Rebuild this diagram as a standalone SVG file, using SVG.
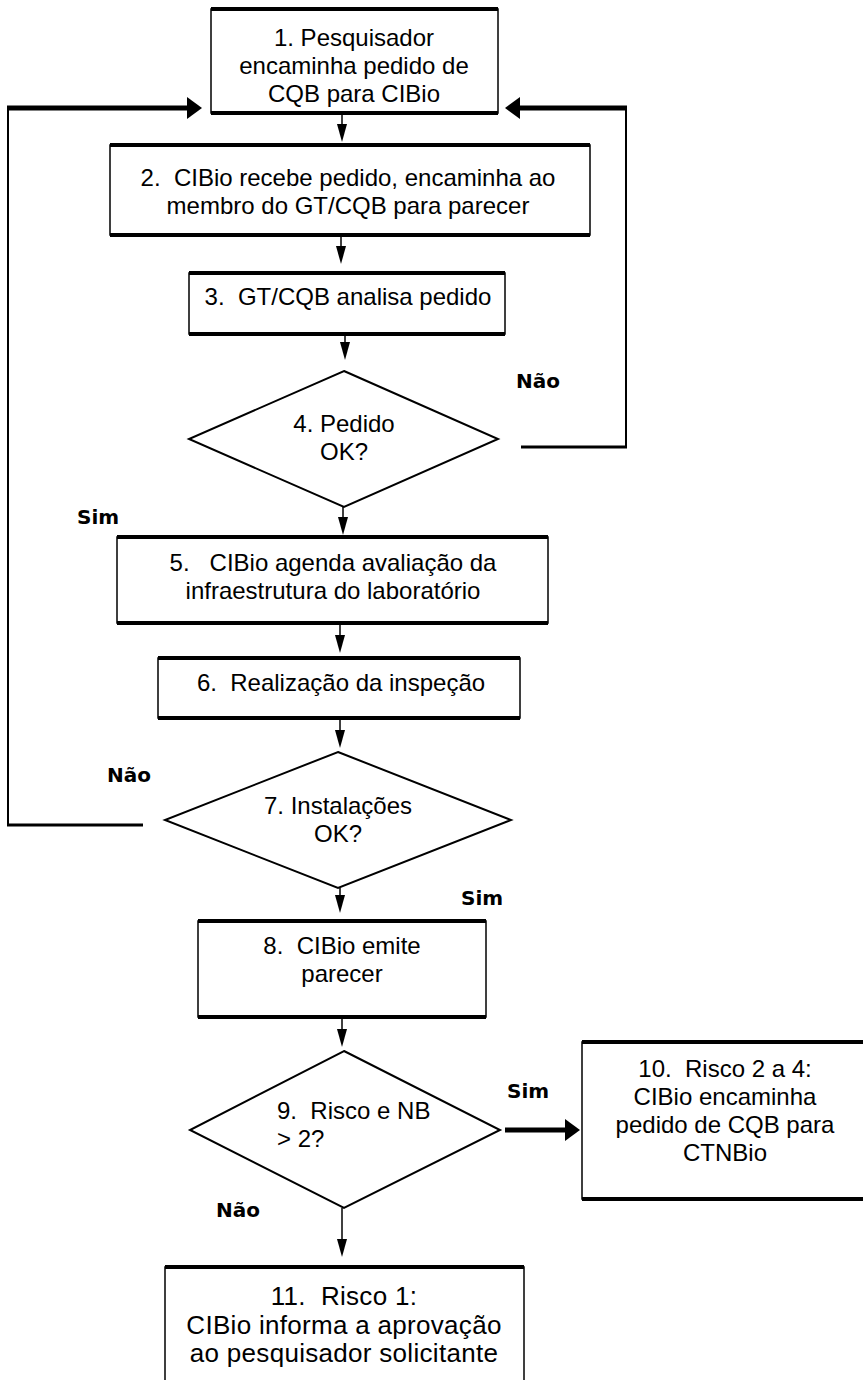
<svg xmlns="http://www.w3.org/2000/svg" width="863" height="1380" viewBox="0 0 863 1380">
<style>
.bx{fill:#fff;stroke:#000;stroke-width:1.5}
.bd{stroke:#000;stroke-width:4;fill:none}
.dm{fill:#fff;stroke:#000;stroke-width:2}
.t{font-family:"Liberation Sans Narrow","Liberation Sans",Arial,sans-serif;font-size:24px;text-anchor:middle;fill:#000;white-space:pre}
.t11{font-size:26px;letter-spacing:0.3px}
.tl{text-anchor:start}
.lb{font-family:"DejaVu Sans","Liberation Sans",sans-serif;font-weight:bold;font-size:20px;fill:#000}
.c{stroke:#000;stroke-width:1.5;fill:none}
.v{stroke:#000;stroke-width:2;fill:none}
.h{stroke:#000;stroke-width:3;fill:none}
.k{stroke:#000;stroke-width:5;fill:none}
</style>
<defs>
<marker id="a" viewBox="0 -5 18 10" refX="0" refY="0" markerWidth="18" markerHeight="10" markerUnits="userSpaceOnUse" orient="auto"><path d="M0,-5 L18,0 L0,5 z" fill="#000"/></marker>
<marker id="b" viewBox="0 -11 15 22" refX="0" refY="0" markerWidth="15" markerHeight="22" markerUnits="userSpaceOnUse" orient="auto"><path d="M0,-11 L15,0 L0,11 z" fill="#000"/></marker>
</defs>
<rect width="863" height="1380" fill="#fff"/>

<g id="connectors">
<line class="c" x1="342" y1="113" x2="342" y2="124" marker-end="url(#a)"/>
<line class="c" x1="341" y1="235" x2="341" y2="246" marker-end="url(#a)"/>
<line class="c" x1="345" y1="334" x2="345" y2="342" marker-end="url(#a)"/>
<line class="c" x1="343" y1="507" x2="343" y2="517" marker-end="url(#a)"/>
<line class="c" x1="340" y1="623" x2="340" y2="635" marker-end="url(#a)"/>
<line class="c" x1="340" y1="718" x2="340" y2="730" marker-end="url(#a)"/>
<line class="c" x1="340" y1="888" x2="340" y2="895" marker-end="url(#a)"/>
<line class="c" x1="342" y1="1017" x2="342" y2="1029" marker-end="url(#a)"/>
<line class="c" x1="342" y1="1208" x2="342" y2="1239" marker-end="url(#a)"/>
<line class="k" x1="505" y1="1130" x2="565" y2="1130" marker-end="url(#b)"/>
<g id="loop-4">
<line class="h" x1="521" y1="447" x2="627" y2="447"/>
<line class="v" x1="626" y1="448" x2="626" y2="106"/>
<line class="k" x1="627" y1="108" x2="520" y2="108" marker-end="url(#b)"/>
</g>
<g id="loop-7">
<line class="h" x1="143" y1="825" x2="7" y2="825"/>
<line class="v" x1="8" y1="826" x2="8" y2="106"/>
<line class="k" x1="7" y1="108" x2="187" y2="108" marker-end="url(#b)"/>
</g>
</g>

<g id="n1">
<rect class="bx" x="211" y="9" width="287" height="104"/>
<path class="bd" d="M211,9 H498 M211,113 H498"/>
<text class="t" x="354" y="46">1. Pesquisador</text>
<text class="t" x="354" y="74">encaminha pedido de</text>
<text class="t" x="354" y="102">CQB para CIBio</text>
</g>
<g id="n2">
<rect class="bx" x="110" y="145" width="480" height="90"/>
<path class="bd" d="M110,145 H590 M110,235 H590"/>
<text class="t" x="348" y="186" xml:space="preserve">2.  CIBio recebe pedido, encaminha ao</text>
<text class="t" x="348" y="214">membro do GT/CQB para parecer</text>
</g>
<g id="n3">
<rect class="bx" x="189" y="273" width="316" height="61"/>
<path class="bd" d="M189,273 H505 M189,334 H505"/>
<text class="t" x="348" y="305" xml:space="preserve">3.  GT/CQB analisa pedido</text>
</g>
<g id="n4">
<polygon class="dm" points="344,371 498,439 344,507 189,439"/>
<text class="t" x="344" y="432">4. Pedido</text>
<text class="t" x="344" y="460">OK?</text>
</g>
<text class="lb" x="516" y="388">Não</text>
<text class="lb" x="77" y="524">Sim</text>
<g id="n5">
<rect class="bx" x="117" y="537" width="431" height="86"/>
<path class="bd" d="M117,537 H548 M117,623 H548"/>
<text class="t" x="333" y="571" xml:space="preserve">5.   CIBio agenda avaliação da</text>
<text class="t" x="333" y="599">infraestrutura do laboratório</text>
</g>
<g id="n6">
<rect class="bx" x="158" y="658" width="362" height="60"/>
<path class="bd" d="M158,658 H520 M158,718 H520"/>
<text class="t" x="341" y="691" xml:space="preserve">6.  Realização da inspeção</text>
</g>
<g id="n7">
<polygon class="dm" points="338,752 511,820 338,888 165,820"/>
<text class="t" x="338" y="814">7. Instalações</text>
<text class="t" x="338" y="842">OK?</text>
</g>
<text class="lb" x="107" y="782">Não</text>
<text class="lb" x="461" y="905">Sim</text>
<g id="n8">
<rect class="bx" x="198" y="921" width="288" height="96"/>
<path class="bd" d="M198,921 H486 M198,1017 H486"/>
<text class="t" x="342" y="954" xml:space="preserve">8.  CIBio emite</text>
<text class="t" x="342" y="982">parecer</text>
</g>
<g id="n9">
<polygon class="dm" points="344,1051 500,1130 344,1208 190,1130"/>
<text class="t tl" x="277" y="1119" xml:space="preserve">9.  Risco e NB</text>
<text class="t tl" x="277" y="1147">&gt; 2?</text>
</g>
<text class="lb" x="507" y="1098">Sim</text>
<text class="lb" x="216" y="1217">Não</text>
<g id="n10">
<rect class="bx" x="582" y="1042" width="286" height="157"/>
<path class="bd" d="M582,1042 H868 M582,1199 H868"/>
<text class="t" x="725" y="1077" xml:space="preserve">10.  Risco 2 a 4:</text>
<text class="t" x="725" y="1105">CIBio encaminha</text>
<text class="t" x="725" y="1133">pedido de CQB para</text>
<text class="t" x="725" y="1161">CTNBio</text>
</g>
<g id="n11">
<rect class="bx" x="165" y="1267" width="359" height="125"/>
<path class="bd" d="M165,1267 H524"/>
<text class="t t11" x="344" y="1305" xml:space="preserve">11.  Risco 1:</text>
<text class="t t11" x="344" y="1334">CIBio informa a aprovação</text>
<text class="t t11" x="344" y="1362">ao pesquisador solicitante</text>
</g>
</svg>
